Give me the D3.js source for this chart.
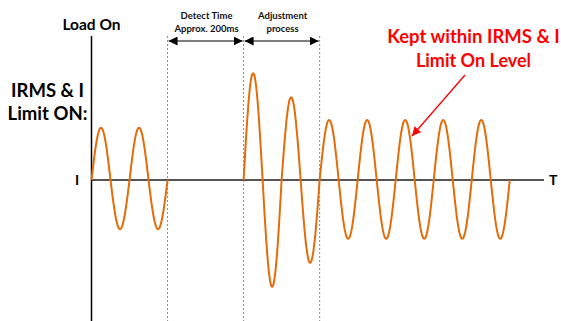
<!DOCTYPE html>
<meta charset="utf-8">
<style>
  body { margin: 0; background: #fff; }
  text { font-family: Lato, "Open Sans", sans-serif; font-weight: bold; }
</style>
<svg width="561" height="321"></svg>
<script src="https://d3js.org/d3.v7.min.js"></script>
<script>
// half-cycle peak heights (relative to the limit level = 1)
var beforeAmps = [0.87, 0.82, 0.87, 0.82];
var afterAmps = [1.78, 1.78, 1.38, 1.38, 1.0, 0.98, 1.0, 0.98, 1.0, 0.98, 1.0, 0.98, 1.0, 0.98];
// start of each burst, in cycles
var beforeStart = 0;
var afterStart = 4;
// marker lines (cycles)
var markers = [2, 4, 6];
var spans = [
  { from: 2, to: 4, label: ['Detect Time', 'Approx. 200ms'] },
  { from: 4, to: 6, label: ['Adjustment', 'process'] }
];

var svg = d3.select('svg');
var x = d3.scaleLinear().domain([0, 11.9]).range([91.5, 544]);
var y = d3.scaleLinear().domain([-2, 2]).range([300, 60]);

var defs = svg.append('defs');
function marker(id, color, orient, w) {
  defs.append('marker').attr('id', id)
    .attr('viewBox', '0 0 10 10').attr('refX', 10).attr('refY', 5)
    .attr('markerWidth', w).attr('markerHeight', w)
    .attr('markerUnits', 'userSpaceOnUse')
    .attr('orient', orient)
    .append('path').attr('d', 'M0,0 L10,5 L0,10 z').attr('fill', color);
}
marker('blk', '#000', 'auto-start-reverse', 9);
marker('red', '#f00', 'auto', 9);

// dotted markers
svg.selectAll('.mk').data(markers).enter().append('line')
  .attr('x1', d => x(d)).attr('x2', d => x(d))
  .attr('y1', 36).attr('y2', 321)
  .attr('stroke', '#8a8a8a').attr('stroke-width', 1)
  .attr('stroke-dasharray', '2,2');

// span arrows
svg.selectAll('.sp').data(spans).enter().append('line')
  .attr('x1', d => x(d.from) + 1).attr('x2', d => x(d.to) - 1)
  .attr('y1', 41).attr('y2', 41)
  .attr('stroke', '#555').attr('stroke-width', 1.5)
  .attr('marker-start', 'url(#blk)').attr('marker-end', 'url(#blk)');

spans.forEach(function (s) {
  var t = svg.append('text').attr('text-anchor', 'middle')
    .attr('font-size', 9.5).attr('fill', '#111');
  s.label.forEach(function (l, i) {
    t.append('tspan').attr('x', (x(s.from) + x(s.to)) / 2 + 1)
      .attr('y', 19 + i * 12.5).text(l);
  });
});

// axes
svg.append('line').attr('x1', x(0)).attr('x2', x(11.9))
  .attr('y1', y(0)).attr('y2', y(0))
  .attr('stroke', '#555').attr('stroke-width', 2);
svg.append('line').attr('x1', x(0)).attr('x2', x(0))
  .attr('y1', 36).attr('y2', 321)
  .attr('stroke', '#000').attr('stroke-width', 1.5);

// waveform
function wave(start, amps) {
  var pts = [];
  amps.forEach(function (a, i) {
    var sign = i % 2 ? -1 : 1;
    d3.range(0, 21).forEach(function (k) {
      if (i > 0 && k === 0) return;
      var t = k / 40;
      pts.push([start + i * 0.5 + t, sign * a * Math.sin(2 * Math.PI * t)]);
    });
  });
  return pts;
}
var line = d3.line().x(d => x(d[0])).y(d => y(d[1])).curve(d3.curveCatmullRom);
[wave(beforeStart, beforeAmps), wave(afterStart, afterAmps)].forEach(function (p) {
  svg.append('path').attr('d', line(p)).attr('fill', 'none')
    .attr('stroke', '#e46c0a').attr('stroke-width', 2);
});

// labels
svg.append('text').attr('x', 91.5).attr('y', 30).attr('text-anchor', 'middle')
  .attr('font-size', 15.5).text('Load On');
svg.append('text').attr('x', 47.5).attr('y', 97).attr('text-anchor', 'middle')
  .attr('font-size', 18.5).text('IRMS & I');
svg.append('text').attr('x', 47.5).attr('y', 120).attr('text-anchor', 'middle')
  .attr('font-size', 18.5).text('Limit ON:');
svg.append('text').attr('x', 77).attr('y', y(0)).attr('dy', '0.36em')
  .attr('text-anchor', 'middle').attr('font-size', 14).text('I');
svg.append('text').attr('x', 549).attr('y', y(0)).attr('dy', '0.36em')
  .attr('font-size', 14).text('T');

svg.append('text').attr('x', 473.5).attr('y', 43).attr('text-anchor', 'middle')
  .attr('font-size', 18.5).attr('fill', '#f00').text('Kept within IRMS & I');
svg.append('text').attr('x', 473.5).attr('y', 67).attr('text-anchor', 'middle')
  .attr('font-size', 18).attr('fill', '#f00').text('Limit On Level');

svg.append('line').attr('x1', 465).attr('y1', 75).attr('x2', 412).attr('y2', 136)
  .attr('stroke', '#f00').attr('stroke-width', 1.3)
  .attr('marker-end', 'url(#red)');
</script>
